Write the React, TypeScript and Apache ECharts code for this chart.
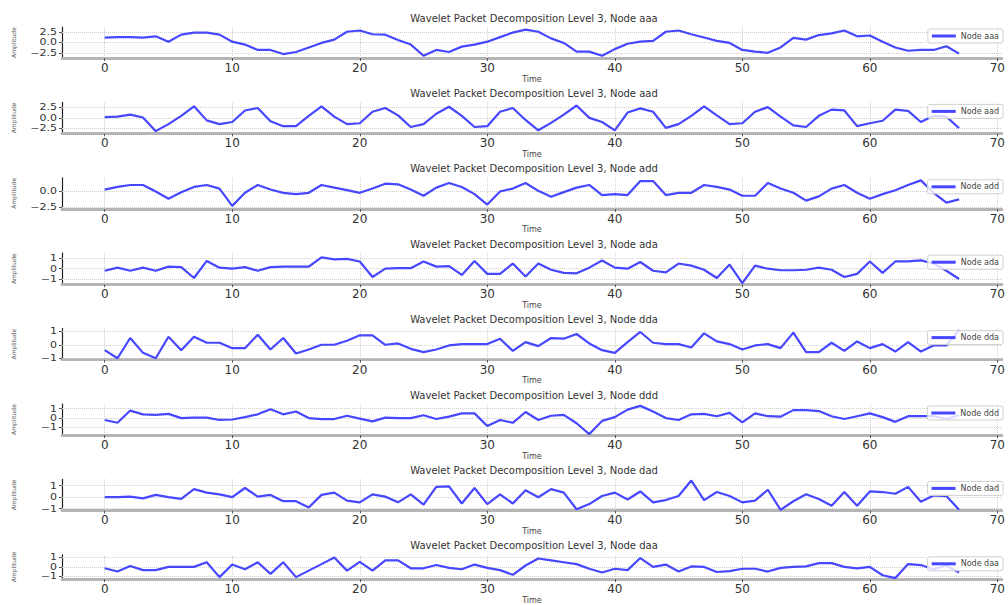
import React, { useEffect, useRef } from "react";
import * as echarts from "echarts";

const nodeNames = ["aaa", "aad", "add", "ada", "dda", "ddd", "dad", "daa"];
const xTicks = [0, 10, 20, 30, 40, 50, 60, 70];

const aaa = [1.2, 1.3, 1.3, 1.2, 1.5, 0.2, 1.9, 2.4, 2.4, 1.9, 0.2, -0.5, -1.8, -1.8, -2.8, -2.3, -1.2, -0.1, 0.7, 2.6, 2.9, 2.0, 1.9, 0.6, -0.5, -3.2, -1.8, -2.3, -1.0, -0.5, 0.2, 1.3, 2.4, 3.1, 2.6, 1.0, -0.1, -2.2, -2.2, -3.2, -1.6, -0.3, 0.2, 0.4, 2.6, 2.9, 2.0, 1.2, 0.4, -0.1, -1.8, -2.2, -2.5, -1.2, 1.1, 0.7, 1.8, 2.2, 2.9, 1.5, 1.7, 0.2, -1.2, -2.0, -1.8, -1.8, -0.9, -2.7];
const aad = [0.2, 0.3, 0.8, 0.1, -3.2, -1.5, 0.5, 2.8, -0.6, -1.5, -1.0, 1.8, 2.4, -0.8, -2.0, -2.0, 0.5, 2.8, 0.3, -1.5, -1.3, 1.5, 2.4, 0.6, -2.2, -1.5, 1.0, 2.7, 0.5, -2.2, -2.0, 1.5, 2.4, -0.5, -3.0, -1.2, 0.8, 3.0, 0.0, -1.0, -3.0, 1.3, 2.3, 1.5, -2.4, -1.5, 0.5, 2.8, 0.6, -1.5, -1.3, 1.5, 2.6, 0.3, -1.8, -2.2, 0.5, 2.0, 1.8, -2.0, -1.3, -0.7, 2.0, 1.7, -1.0, 0.5, 0.3, -2.5];
const add = [0.2, 0.6, 0.9, 0.9, -0.1, -1.2, -0.2, 0.6, 0.9, 0.35, -2.3, -0.3, 0.9, 0.2, -0.3, -0.5, -0.3, 0.9, 0.5, 0.1, -0.3, 0.35, 1.1, 1.0, 0.2, -0.75, 0.5, 1.2, 0.6, -0.5, -2.1, -0.1, 0.35, 1.2, 0.0, -0.9, -0.2, 0.5, 0.9, -0.65, -0.5, -0.65, 1.5, 1.5, -0.65, -0.3, -0.3, 0.9, 0.6, 0.2, -0.75, -0.75, 1.2, 0.35, -0.3, -1.5, -0.85, 0.35, 0.9, -0.3, -1.2, -0.5, 0.1, 0.9, 1.6, -0.3, -1.8, -1.3];
const ada = [-0.2, 0.1, -0.2, 0.1, -0.2, 0.2, 0.15, -0.9, 0.75, 0.1, 0.0, 0.15, -0.2, 0.15, 0.2, 0.2, 0.2, 1.1, 0.9, 0.95, 0.7, -0.8, 0.0, 0.05, 0.05, 0.7, 0.2, 0.25, -0.6, 0.75, -0.5, -0.5, 0.5, -0.75, 0.5, -0.1, -0.4, -0.45, 0.1, 0.8, 0.1, 0.0, 0.65, -0.2, -0.35, 0.5, 0.3, -0.1, -0.9, 0.4, -1.4, 0.3, 0.0, -0.15, -0.15, -0.1, 0.1, -0.1, -0.8, -0.5, 0.7, -0.4, 0.7, 0.7, 0.8, 0.5, -0.2, -1.0];
const dda = [-0.4, -1.0, 0.5, -0.6, -1.0, 0.6, -0.4, 0.6, 0.15, 0.15, -0.25, -0.25, 0.75, -0.35, 0.5, -0.65, -0.35, 0.0, 0.0, 0.3, 0.7, 0.7, 0.0, 0.1, -0.3, -0.55, -0.35, -0.05, 0.05, 0.05, 0.05, 0.45, -0.45, 0.2, -0.1, 0.5, 0.45, 0.8, 0.1, -0.4, -0.6, 0.2, 0.95, 0.15, 0.05, 0.05, -0.2, 0.85, 0.25, 0.05, -0.35, -0.05, 0.05, -0.25, 0.9, -0.55, -0.55, 0.15, -0.45, 0.25, -0.25, 0.05, -0.5, 0.2, -0.5, -0.05, -0.05, 1.1];
const ddd = [-0.2, -0.5, 0.8, 0.4, 0.35, 0.45, 0.0, 0.05, 0.05, -0.2, -0.15, 0.1, 0.4, 0.95, 0.4, 0.7, 0.0, -0.1, -0.1, 0.25, -0.05, -0.35, 0.05, 0.0, 0.0, 0.3, -0.1, 0.15, 0.5, 0.5, -0.85, -0.2, -0.5, 0.65, -0.2, 0.25, 0.35, -0.55, -1.7, -0.3, 0.1, 0.9, 1.3, 0.7, 0.0, -0.2, 0.4, 0.45, 0.2, 0.55, -0.45, 0.5, 0.2, 0.15, 0.85, 0.85, 0.75, 0.2, -0.1, 0.2, 0.5, 0.1, -0.4, 0.2, 0.2, 0.2, -0.1, 0.3];
const dad = [0.0, 0.0, 0.05, -0.1, 0.2, 0.0, -0.15, 0.7, 0.4, 0.25, 0.0, 0.8, 0.05, 0.2, -0.35, -0.35, -0.9, 0.2, 0.4, -0.3, -0.45, 0.25, 0.05, -0.45, 0.25, -0.65, 0.9, 0.95, -0.55, 0.8, -0.6, 0.25, -0.55, 0.6, 0.0, 0.7, 0.4, -1.05, -0.6, 0.1, 0.4, -0.2, 0.5, -0.45, -0.25, 0.1, 1.45, -0.25, 0.45, 0.1, -0.45, -0.3, 0.65, -1.1, -0.35, 0.25, -0.15, -0.75, 0.45, -0.75, 0.5, 0.45, 0.3, 0.9, -0.4, 0.15, 0.1, -1.1];
const daa = [-0.15, -0.5, 0.1, -0.35, -0.35, 0.0, 0.0, 0.0, 0.5, -1.1, 0.25, -0.25, 0.5, -0.75, 0.5, -1.1, -0.4, 0.3, 1.0, -0.4, 0.55, -0.4, 0.7, 0.7, -0.15, -0.15, 0.2, -0.1, -0.25, 0.25, -0.1, -0.35, -0.85, 0.15, 0.9, 0.7, 0.5, 0.3, -0.2, -0.6, -0.2, -0.35, 0.95, 0.0, 0.25, -0.5, 0.05, 0.0, -0.55, -0.45, -0.2, -0.2, -0.5, -0.1, 0.0, 0.05, 0.4, 0.4, 0.0, -0.15, 0.0, -0.9, -1.2, 0.3, 0.2, -0.25, 0.15, -0.6];

const seriesValues = [aaa, aad, add, ada, dda, ddd, dad, daa];
const yTickSets = [
  [-2.5, 0, 2.5],
  [-2.5, 0, 2.5],
  [-2.5, 0],
  [-1, 0, 1],
  [-1, 0, 1],
  [-1, 0, 1],
  [-1, 0, 1],
  [-1, 0, 1],
];
const yRanges: [number, number][] = [
  [-3.75, 3.75],
  [-3.75, 3.75],
  [-2.75, 2.0],
  [-1.5, 1.5],
  [-1.1, 1.2],
  [-1.8, 1.5],
  [-1.15, 1.55],
  [-1.3, 1.3],
];
const xMin = -3.35;
const xMax = 70.35;

const fmt = (v: number, step: number) => {
  const s = step === 2.5 ? v.toFixed(1) : String(Math.round(v));
  return s.replace("-", "\u2212");
};

export default function App() {
  const ref = useRef<HTMLDivElement>(null);
  useEffect(() => {
    document.body.style.margin = "0";
    if (!ref.current) return;
    const chart = echarts.init(ref.current, null, { renderer: "svg" });
    const n = nodeNames.length;
    const plotH = 31;
    const step = 75.4;
    const grids: any[] = [];
    const xAxes: any[] = [];
    const yAxes: any[] = [];
    const series: any[] = [];
    const legends: any[] = [];
    const graphics: any[] = [];
    for (let i = 0; i < n; i++) {
      const top = 27 + step * i;
      const yt = yTickSets[i];
      grids.push({ left: 62, right: 3, top, height: plotH });
      xAxes.push({
        type: "value",
        gridIndex: i,
        min: xMin,
        max: xMax,
        name: "Time",
        nameLocation: "middle",
        nameGap: 17,
        nameTextStyle: { fontSize: 8, color: "#444", fontFamily: "DejaVu Sans" },
        axisLine: { show: true, onZero: false, lineStyle: { color: "#b5b5b5", width: 3 } },
        axisTick: { show: true, customValues: xTicks, length: 3, lineStyle: { color: "#555" } },
        axisLabel: {
          customValues: xTicks,
          fontSize: 12,
          color: "#333",
          margin: 4,
          fontFamily: "DejaVu Sans",
        },
        splitLine: { show: false },
      });
      yAxes.push({
        type: "value",
        gridIndex: i,
        min: yRanges[i][0],
        max: yRanges[i][1],
        name: "Amplitude",
        nameLocation: "middle",
        nameRotate: 90,
        nameGap: 46,
        nameTextStyle: { fontSize: 6, color: "#555", fontFamily: "DejaVu Sans" },
        axisLine: { show: true, onZero: false, lineStyle: { color: "#222", width: 1.2 } },
        axisTick: { show: true, customValues: yt, length: 3, lineStyle: { color: "#555" } },
        axisLabel: { show: false },
        splitLine: { show: false },
      });
      const name = "Node " + nodeNames[i];
      const vals = seriesValues[i];
      series.push({
        type: "line",
        name,
        xAxisIndex: i,
        yAxisIndex: i,
        data: vals.map((v, k) => [k, v]),
        showSymbol: false,
        symbol: "none",
        lineStyle: { color: "#4747ff", width: 2.2 },
        itemStyle: { color: "#4747ff" },
        z: 3,
        markLine: {
          silent: true,
          symbol: "none",
          label: { show: false },
          lineStyle: { type: "dotted", color: "#cfcfcf", width: 1 },
          z: 1,
          data: [
            ...yt.map((v) => ({ yAxis: v })),
            ...xTicks.map((v) => ({ xAxis: v })),
          ],
        },
      });
      legends.push({
        data: [name],
        right: 5,
        top: top + 2,
        orient: "vertical",
        itemWidth: 24,
        itemHeight: 3,
        itemGap: 2,
        padding: [3, 4],
        backgroundColor: "rgba(255,255,255,0.8)",
        borderColor: "#d0d0d0",
        borderWidth: 1,
        borderRadius: 2,
        textStyle: { fontSize: 8, color: "#444", fontFamily: "DejaVu Sans" },
        icon: "rect",
      });
      graphics.push({
        type: "text",
        x: 534,
        y: 18 + step * i,
        style: {
          text: "Wavelet Packet Decomposition Level 3, " + name,
          fontSize: 10,
          fill: "#333",
          fontFamily: "DejaVu Sans",
          textAlign: "center",
          textVerticalAlign: "middle",
        },
      });
    }
    chart.setOption({
      animation: false,
      backgroundColor: "#ffffff",
      grid: grids,
      xAxis: xAxes,
      yAxis: yAxes,
      series,
      legend: legends,
      graphic: graphics,
    });
    // y tick labels placed through the axis scale
    const labelGraphics: any[] = [];
    for (let i = 0; i < n; i++) {
      const yt = yTickSets[i];
      const ystep = yt.includes(2.5) || yt.includes(-2.5) ? 2.5 : 1;
      yt.forEach((v) => {
        const p = chart.convertToPixel({ gridIndex: i }, [xMin, v]) as number[];
        if (!p) return;
        labelGraphics.push({
          type: "text",
          x: p[0] - 5,
          y: p[1],
          scaleY: 0.72,
          style: {
            text: fmt(v, ystep),
            fontSize: 11,
            fill: "#333",
            fontFamily: "DejaVu Sans",
            textAlign: "right",
            textVerticalAlign: "middle",
          },
        });
      });
    }
    chart.setOption({ graphic: [...graphics, ...labelGraphics] });
    return () => chart.dispose();
  }, []);
  return <div ref={ref} style={{ width: 1008, height: 605 }} />;
}
